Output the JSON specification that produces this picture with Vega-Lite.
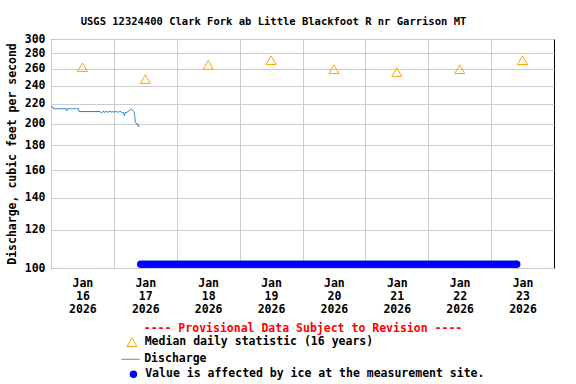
{
  "$schema": "https://vega.github.io/schema/vega-lite/v6.json",
  "width": 503,
  "height": 229,
  "autosize": {"type": "none"},
  "padding": {"left": 51, "top": 39, "right": 22, "bottom": 116},
  "background": "white",
  "title": {"text": "USGS 12324400 Clark Fork ab Little Blackfoot R nr Garrison MT", "fontSize": 10.5, "font": "DejaVu Sans Mono", "fontWeight": "bold", "color": "black", "anchor": "middle", "dx": -29, "offset": 6},
  "datasets": {
    "med": [
      {"t": "2026-01-16T12:00", "v": 262},
      {"t": "2026-01-17T12:00", "v": 247.5},
      {"t": "2026-01-18T12:00", "v": 265},
      {"t": "2026-01-19T12:00", "v": 271},
      {"t": "2026-01-20T12:00", "v": 259.5},
      {"t": "2026-01-21T12:00", "v": 256},
      {"t": "2026-01-22T12:00", "v": 259.5},
      {"t": "2026-01-23T12:00", "v": 271}
    ],
    "dis": [
      {"t": "2026-01-16T00:00", "v": 216.5},
      {"t": "2026-01-16T00:45", "v": 216.5},
      {"t": "2026-01-16T01:00", "v": 214.7},
      {"t": "2026-01-16T03:00", "v": 214.7},
      {"t": "2026-01-16T05:45", "v": 214.7},
      {"t": "2026-01-16T06:00", "v": 212.5},
      {"t": "2026-01-16T06:15", "v": 214.7},
      {"t": "2026-01-16T08:00", "v": 214.7},
      {"t": "2026-01-16T10:30", "v": 214.7},
      {"t": "2026-01-16T10:45", "v": 211.5},
      {"t": "2026-01-16T11:00", "v": 211.8},
      {"t": "2026-01-16T13:00", "v": 211.8},
      {"t": "2026-01-16T16:00", "v": 211.8},
      {"t": "2026-01-16T18:45", "v": 211.8},
      {"t": "2026-01-16T19:00", "v": 210.8},
      {"t": "2026-01-16T19:30", "v": 210.8},
      {"t": "2026-01-16T19:45", "v": 211.8},
      {"t": "2026-01-16T20:15", "v": 211.8},
      {"t": "2026-01-16T20:30", "v": 210.8},
      {"t": "2026-01-16T20:45", "v": 211.8},
      {"t": "2026-01-16T21:30", "v": 211.8},
      {"t": "2026-01-16T21:45", "v": 210.8},
      {"t": "2026-01-16T22:00", "v": 211.8},
      {"t": "2026-01-16T23:00", "v": 211.8},
      {"t": "2026-01-16T23:15", "v": 210.8},
      {"t": "2026-01-16T23:30", "v": 211.8},
      {"t": "2026-01-17T00:00", "v": 211.8},
      {"t": "2026-01-17T00:15", "v": 210.8},
      {"t": "2026-01-17T00:30", "v": 211.8},
      {"t": "2026-01-17T01:15", "v": 211.8},
      {"t": "2026-01-17T01:30", "v": 210.8},
      {"t": "2026-01-17T02:00", "v": 211.8},
      {"t": "2026-01-17T02:45", "v": 211.8},
      {"t": "2026-01-17T03:00", "v": 210.8},
      {"t": "2026-01-17T03:45", "v": 210.8},
      {"t": "2026-01-17T04:00", "v": 207.5},
      {"t": "2026-01-17T04:15", "v": 210.8},
      {"t": "2026-01-17T05:00", "v": 210.8},
      {"t": "2026-01-17T05:15", "v": 211.8},
      {"t": "2026-01-17T05:45", "v": 212.5},
      {"t": "2026-01-17T06:15", "v": 213.5},
      {"t": "2026-01-17T06:45", "v": 214.7},
      {"t": "2026-01-17T07:00", "v": 213.5},
      {"t": "2026-01-17T07:30", "v": 212},
      {"t": "2026-01-17T07:45", "v": 211},
      {"t": "2026-01-17T08:00", "v": 206},
      {"t": "2026-01-17T08:15", "v": 201},
      {"t": "2026-01-17T08:30", "v": 200},
      {"t": "2026-01-17T09:00", "v": 200},
      {"t": "2026-01-17T09:15", "v": 197.5},
      {"t": "2026-01-17T09:45", "v": 197.5},
      {"t": "2026-01-17T10:00", "v": 197}
    ],
    "ice": [
      {"t": "2026-01-17T10:15"}, {"t": "2026-01-17T11:15"}, {"t": "2026-01-17T12:15"}, {"t": "2026-01-17T13:15"}, {"t": "2026-01-17T14:15"}, {"t": "2026-01-17T15:15"}, {"t": "2026-01-17T16:15"}, {"t": "2026-01-17T17:15"}, {"t": "2026-01-17T18:15"}, {"t": "2026-01-17T19:15"}, {"t": "2026-01-17T20:15"}, {"t": "2026-01-17T21:15"}, {"t": "2026-01-17T22:15"}, {"t": "2026-01-17T23:15"},
      {"t": "2026-01-18T00:15"}, {"t": "2026-01-18T01:15"}, {"t": "2026-01-18T02:15"}, {"t": "2026-01-18T03:15"}, {"t": "2026-01-18T04:15"}, {"t": "2026-01-18T05:15"}, {"t": "2026-01-18T06:15"}, {"t": "2026-01-18T07:15"}, {"t": "2026-01-18T08:15"}, {"t": "2026-01-18T09:15"}, {"t": "2026-01-18T10:15"}, {"t": "2026-01-18T11:15"}, {"t": "2026-01-18T12:15"}, {"t": "2026-01-18T13:15"}, {"t": "2026-01-18T14:15"}, {"t": "2026-01-18T15:15"}, {"t": "2026-01-18T16:15"}, {"t": "2026-01-18T17:15"}, {"t": "2026-01-18T18:15"}, {"t": "2026-01-18T19:15"}, {"t": "2026-01-18T20:15"}, {"t": "2026-01-18T21:15"}, {"t": "2026-01-18T22:15"}, {"t": "2026-01-18T23:15"},
      {"t": "2026-01-19T00:15"}, {"t": "2026-01-19T01:15"}, {"t": "2026-01-19T02:15"}, {"t": "2026-01-19T03:15"}, {"t": "2026-01-19T04:15"}, {"t": "2026-01-19T05:15"}, {"t": "2026-01-19T06:15"}, {"t": "2026-01-19T07:15"}, {"t": "2026-01-19T08:15"}, {"t": "2026-01-19T09:15"}, {"t": "2026-01-19T10:15"}, {"t": "2026-01-19T11:15"}, {"t": "2026-01-19T12:15"}, {"t": "2026-01-19T13:15"}, {"t": "2026-01-19T14:15"}, {"t": "2026-01-19T15:15"}, {"t": "2026-01-19T16:15"}, {"t": "2026-01-19T17:15"}, {"t": "2026-01-19T18:15"}, {"t": "2026-01-19T19:15"}, {"t": "2026-01-19T20:15"}, {"t": "2026-01-19T21:15"}, {"t": "2026-01-19T22:15"}, {"t": "2026-01-19T23:15"},
      {"t": "2026-01-20T00:15"}, {"t": "2026-01-20T01:15"}, {"t": "2026-01-20T02:15"}, {"t": "2026-01-20T03:15"}, {"t": "2026-01-20T04:15"}, {"t": "2026-01-20T05:15"}, {"t": "2026-01-20T06:15"}, {"t": "2026-01-20T07:15"}, {"t": "2026-01-20T08:15"}, {"t": "2026-01-20T09:15"}, {"t": "2026-01-20T10:15"}, {"t": "2026-01-20T11:15"}, {"t": "2026-01-20T12:15"}, {"t": "2026-01-20T13:15"}, {"t": "2026-01-20T14:15"}, {"t": "2026-01-20T15:15"}, {"t": "2026-01-20T16:15"}, {"t": "2026-01-20T17:15"}, {"t": "2026-01-20T18:15"}, {"t": "2026-01-20T19:15"}, {"t": "2026-01-20T20:15"}, {"t": "2026-01-20T21:15"}, {"t": "2026-01-20T22:15"}, {"t": "2026-01-20T23:15"},
      {"t": "2026-01-21T00:15"}, {"t": "2026-01-21T01:15"}, {"t": "2026-01-21T02:15"}, {"t": "2026-01-21T03:15"}, {"t": "2026-01-21T04:15"}, {"t": "2026-01-21T05:15"}, {"t": "2026-01-21T06:15"}, {"t": "2026-01-21T07:15"}, {"t": "2026-01-21T08:15"}, {"t": "2026-01-21T09:15"}, {"t": "2026-01-21T10:15"}, {"t": "2026-01-21T11:15"}, {"t": "2026-01-21T12:15"}, {"t": "2026-01-21T13:15"}, {"t": "2026-01-21T14:15"}, {"t": "2026-01-21T15:15"}, {"t": "2026-01-21T16:15"}, {"t": "2026-01-21T17:15"}, {"t": "2026-01-21T18:15"}, {"t": "2026-01-21T19:15"}, {"t": "2026-01-21T20:15"}, {"t": "2026-01-21T21:15"}, {"t": "2026-01-21T22:15"}, {"t": "2026-01-21T23:15"},
      {"t": "2026-01-22T00:15"}, {"t": "2026-01-22T01:15"}, {"t": "2026-01-22T02:15"}, {"t": "2026-01-22T03:15"}, {"t": "2026-01-22T04:15"}, {"t": "2026-01-22T05:15"}, {"t": "2026-01-22T06:15"}, {"t": "2026-01-22T07:15"}, {"t": "2026-01-22T08:15"}, {"t": "2026-01-22T09:15"}, {"t": "2026-01-22T10:15"}, {"t": "2026-01-22T11:15"}, {"t": "2026-01-22T12:15"}, {"t": "2026-01-22T13:15"}, {"t": "2026-01-22T14:15"}, {"t": "2026-01-22T15:15"}, {"t": "2026-01-22T16:15"}, {"t": "2026-01-22T17:15"}, {"t": "2026-01-22T18:15"}, {"t": "2026-01-22T19:15"}, {"t": "2026-01-22T20:15"}, {"t": "2026-01-22T21:15"}, {"t": "2026-01-22T22:15"}, {"t": "2026-01-22T23:15"},
      {"t": "2026-01-23T00:15"}, {"t": "2026-01-23T01:15"}, {"t": "2026-01-23T02:15"}, {"t": "2026-01-23T03:15"}, {"t": "2026-01-23T04:15"}, {"t": "2026-01-23T05:15"}, {"t": "2026-01-23T06:15"}, {"t": "2026-01-23T07:15"}, {"t": "2026-01-23T08:15"}, {"t": "2026-01-23T09:15"}, {"t": "2026-01-23T09:45"}
    ]
  },
  "encoding": {
    "x": {
      "field": "t", "type": "temporal",
      "scale": {"domain": [{"year": 2026, "month": "jan", "date": 16}, {"year": 2026, "month": "jan", "date": 24}], "nice": false},
      "axis": {
        "title": "---- Provisional Data Subject to Revision ----",
        "titleColor": "red", "titlePadding": 8,
        "values": [
          {"year": 2026, "month": "jan", "date": 16}, {"year": 2026, "month": "jan", "date": 17},
          {"year": 2026, "month": "jan", "date": 18}, {"year": 2026, "month": "jan", "date": 19},
          {"year": 2026, "month": "jan", "date": 20}, {"year": 2026, "month": "jan", "date": 21},
          {"year": 2026, "month": "jan", "date": 22}, {"year": 2026, "month": "jan", "date": 23}
        ],
        "labelExpr": "[timeFormat(datum.value, '%b'), timeFormat(datum.value, '%d'), timeFormat(datum.value, '%Y')]",
        "labelOffset": 31.4,
        "labelFlush": false, "labelOverlap": false, "labelBound": false,
        "labelLineHeight": 13, "labelPadding": 9,
        "ticks": false, "domain": false, "grid": true
      }
    }
  },
  "layer": [
    {
      "data": {"name": "ice"},
      "mark": {"type": "point", "shape": "circle", "filled": true, "size": 56, "opacity": 1, "strokeWidth": 0},
      "encoding": {
        "y": {"datum": 101.8, "type": "quantitative", "scale": {"type": "log", "domain": [100, 300], "nice": false}},
        "color": {
          "datum": "Value is affected by ice at the measurement site.",
          "scale": {"range": ["#0000ff"]},
          "legend": {
            "orient": "none", "legendX": 76.7, "legendY": 329.5,
            "title": null, "symbolType": "circle", "symbolSize": 56, "symbolStrokeWidth": 0,
            "symbolFillColor": "#0000ff", "symbolOpacity": 1,
            "labelOffset": 6, "padding": 0
          }
        }
      }
    },
    {
      "data": {"name": "dis"},
      "mark": {"type": "line", "strokeWidth": 1, "color": "#1a7ed4"},
      "encoding": {
        "y": {
          "field": "v", "type": "quantitative",
          "scale": {"type": "log", "domain": [100, 300], "nice": false},
          "axis": {
            "title": "Discharge, cubic feet per second",
            "values": [100, 120, 140, 160, 180, 200, 220, 240, 260, 280, 300],
            "format": "d",
            "ticks": false, "domain": false, "grid": true,
            "labelPadding": 6, "titlePadding": 7
          }
        },
        "strokeDash": {
          "datum": "Discharge",
          "scale": {"range": [[1, 0]]},
          "legend": {
            "orient": "none", "legendX": 70, "legendY": 310.8,
            "title": null, "symbolType": "stroke", "symbolSize": 324, "symbolStrokeWidth": 1,
            "symbolStrokeColor": "#1a7ed4", "symbolOpacity": 1,
            "labelOffset": 4.2, "padding": 0
          }
        }
      }
    },
    {
      "data": {"name": "med"},
      "mark": {"type": "point", "filled": false, "size": 100, "strokeWidth": 1, "opacity": 1, "color": "#ffa500"},
      "encoding": {
        "y": {"field": "v", "type": "quantitative"},
        "shape": {
          "datum": "Median daily statistic (16 years)",
          "scale": {"range": ["triangle-up"]},
          "legend": {
            "orient": "none", "legendX": 75.2, "legendY": 297.5,
            "title": null, "symbolSize": 100, "symbolStrokeWidth": 1,
            "symbolStrokeColor": "#ffa500", "symbolFillColor": "transparent", "symbolOpacity": 1,
            "labelOffset": 7, "padding": 0
          }
        }
      }
    }
  ],
  "config": {
    "font": "DejaVu Sans Mono",
    "view": {"stroke": "black", "strokeWidth": 1},
    "axis": {
      "labelFont": "DejaVu Sans Mono", "labelFontSize": 11.5, "labelFontWeight": "bold", "labelColor": "black",
      "titleFont": "DejaVu Sans Mono", "titleFontSize": 11.5, "titleFontWeight": "bold", "titleColor": "black",
      "gridColor": "#cccccc", "gridWidth": 1, "gridOpacity": 1
    },
    "legend": {
      "labelFont": "DejaVu Sans Mono", "labelFontSize": 11.5, "labelFontWeight": "bold", "labelColor": "black",
      "labelLimit": 600, "rowPadding": 0
    }
  }
}
